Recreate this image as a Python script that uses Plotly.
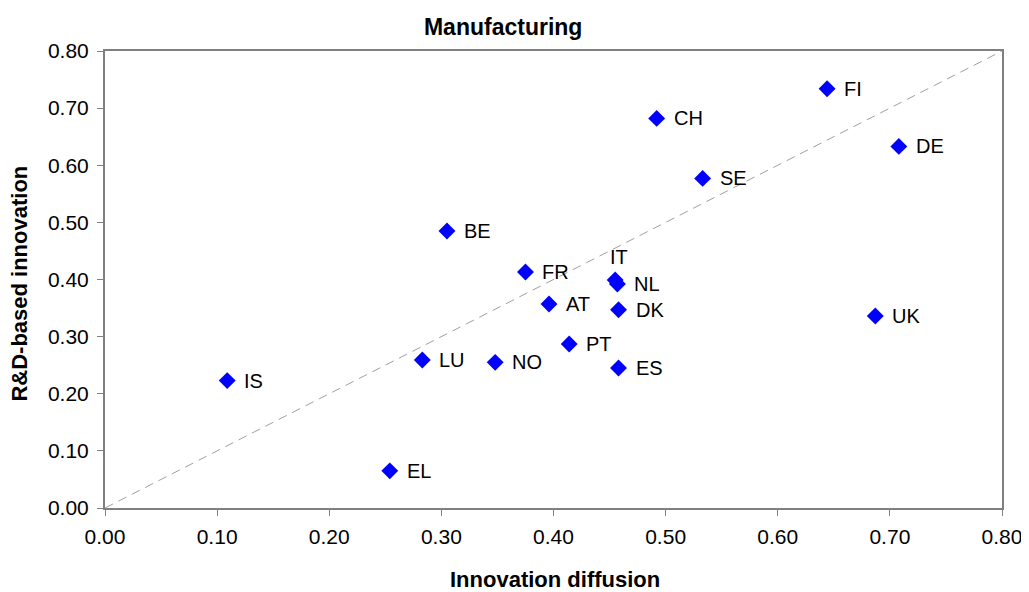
import plotly.graph_objects as go

countries = ["FI", "CH", "DE", "SE", "BE", "FR", "IT", "NL", "AT", "DK", "UK",
             "PT", "LU", "NO", "ES", "IS", "EL"]
diffusion = [0.644, 0.492, 0.708, 0.533, 0.305, 0.375, 0.455, 0.457, 0.396, 0.458, 0.687,
             0.414, 0.283, 0.348, 0.458, 0.109, 0.254]
rd_based = [0.734, 0.682, 0.633, 0.577, 0.485, 0.413, 0.399, 0.392, 0.357, 0.347, 0.336,
            0.287, 0.259, 0.255, 0.245, 0.223, 0.065]
diag = [0.0, 0.8]

tick_vals = [0.0, 0.1, 0.2, 0.3, 0.4, 0.5, 0.6, 0.7, 0.8]
tick_text = ["0.00", "0.10", "0.20", "0.30", "0.40", "0.50", "0.60", "0.70", "0.80"]

FONT = "Liberation Sans, Arial, sans-serif"

fig = go.Figure()
fig.add_trace(go.Scatter(x=diag, y=diag, mode="lines",
                         line=dict(color="#A0A0A0", width=1, dash="9px,6px"),
                         hoverinfo="skip", showlegend=False))
fig.add_trace(go.Scatter(x=diffusion, y=rd_based, mode="markers",
                         marker=dict(symbol="diamond", size=13, color="#0000FF"),
                         showlegend=False))

annotations = []
for c, xv, yv in zip(countries, diffusion, rd_based):
    if c == "IT":
        annotations.append(dict(x=xv, y=yv, text=c, showarrow=False, xanchor="center",
                                yanchor="middle", xshift=4, yshift=23,
                                font=dict(family=FONT, size=20, color="black")))
    else:
        annotations.append(dict(x=xv, y=yv, text=c, showarrow=False, xanchor="left",
                                yanchor="middle", xshift=15,
                                font=dict(family=FONT, size=20, color="black")))

# axis titles
annotations.append(dict(text="<b>Innovation diffusion</b>", xref="paper", yref="paper",
                        x=0.502, y=0, xanchor="center", yanchor="middle", yshift=-71,
                        showarrow=False, font=dict(family=FONT, size=22, color="black")))
annotations.append(dict(text="<b>R&D-based innovation</b>", xref="paper", yref="paper",
                        x=0, y=0.491, xanchor="center", yanchor="middle", xshift=-85,
                        textangle=-90, showarrow=False,
                        font=dict(family=FONT, size=22, color="black")))

fig.update_layout(
    width=1021, height=584,
    margin=dict(l=97, r=27, t=43, b=84),
    paper_bgcolor="white", plot_bgcolor="white",
    font=dict(family=FONT, size=21, color="black"),
    title=dict(text="<b>Manufacturing</b>", x=0.485, xref="container", xanchor="center",
               y=0.967, yref="container", yanchor="middle",
               font=dict(family=FONT, size=23, color="black")),
    annotations=annotations,
    xaxis=dict(range=[0, 0.8], tickvals=tick_vals, ticktext=tick_text, automargin=False,
               showgrid=False, zeroline=False, showline=True, linecolor="#808080",
               linewidth=2, mirror=True, ticks="outside", ticklen=6, tickcolor="#808080",
               tickwidth=1, ticklabelstandoff=3, tickfont=dict(family=FONT, size=21)),
    yaxis=dict(range=[0, 0.8], tickvals=tick_vals, ticktext=tick_text, automargin=False,
               showgrid=False, zeroline=False, showline=True, linecolor="#808080",
               linewidth=2, mirror=True, ticks="outside", ticklen=6, tickcolor="#808080",
               tickwidth=1, ticklabelstandoff=4, tickfont=dict(family=FONT, size=21)),
)

fig.write_html("out.html")
